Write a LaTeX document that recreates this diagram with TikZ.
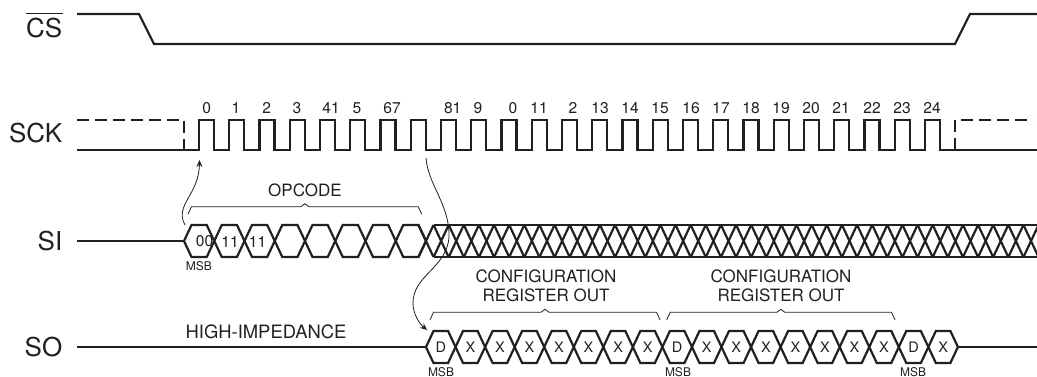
\documentclass[tikz,border=0pt]{standalone}
\usepackage{fontspec}
\setmainfont{TeX Gyre Heros}
\usetikzlibrary{arrows.meta, positioning, calc}
\definecolor{inkblack}{RGB}{35, 31, 32}
\newcommand{\hexcell}[3]{%
  \draw[wave] (#1,#3) -- ({#1+7.5},{#3-16}) -- ({#1+#2-7.5},{#3-16}) -- ({#1+#2},#3) -- ({#1+#2-7.5},{#3+16}) -- ({#1+7.5},{#3+16}) -- cycle;
}
\newcommand{\regbrace}[3]{%
  \draw[bracket] (#1,#3+7.5) -- ({#1+3.5},#3) -- ({(#1+#2)/2-4},#3) -- ({(#1+#2)/2},#3-3) -- ({(#1+#2)/2+4},#3) -- ({#2-3.5},#3) -- (#2,#3+7.5);
}
\begin{document}
\begin{tikzpicture}[
  x=1pt, y=-1pt, color=inkblack,
  wave/.style={line width=2.2pt, inkblack},
  dashwave/.style={line width=1.9pt, inkblack, dash pattern=on 12pt off 6pt},
  bracket/.style={line width=0.8pt, inkblack},
  flow/.style={line width=0.8pt, inkblack, -{Stealth[length=7pt, width=6pt, inset=2.5pt]}},
  signame/.style={font=\fontsize{26}{26}\selectfont, anchor=east, inner sep=0pt},
  ticklabel/.style={font=\fontsize{15.6}{16}\selectfont, inner sep=0pt},
  bitlabel/.style={font=\fontsize{14.5}{15}\selectfont, inner sep=0pt},
  msblabel/.style={font=\fontsize{12}{12}\selectfont, inner sep=0pt},
  note/.style={font=\fontsize{17}{19}\selectfont, inner sep=0pt, align=center}
]
  \useasboundingbox (0,0) rectangle (1037,377);

  % Signal names
  \node[signame] (cs) at (62.5,28.5) {CS};
  \draw[line width=1pt] ([yshift=4.5pt]cs.north west) -- ([yshift=4.5pt]cs.north east);
  \node[signame] (sck) at (62.5,133) {SCK};
  \node[signame] (si) at (62.5,241) {SI};
  \node[signame] (so) at (62.5,347) {SO};

  % CS
  \draw[wave] (77,14) -- (139,14) -- (154,44) -- (955,44) -- (970,14) -- (1037,14);

  % SCK
  \draw[dashwave] (77,120) -- (184,120) -- (184,150);
  \draw[dashwave] (955,150) -- (955,120) -- (1033,120);
  \draw[wave] (77,150) \foreach \k in {0,...,24} {
    -- ({199+30.25*\k},150) -- ({199+30.25*\k},120) -- ({214+30.25*\k},120) -- ({214+30.25*\k},150)
  } -- (1037,150);
  \foreach \x/\t [count=\i] in {206.7/0, 236/1, 266.7/2, 297/3, 331/41, 357/5, 392/67, 452.7/81, 478/9, 513/0, 539/11, 573/2, 600/13, 630/14, 660/15, 691/16, 721/17, 751/18, 781/19, 811/20, 841/21, 872/22, 902/23, 932/24}
    \node[ticklabel] (tick\i) at (\x,108) {\t};

  % SI
  \draw[wave] (77,241) -- (184,241);
  \foreach \k in {0,...,7} {
    \pgfmathsetmacro{\tip}{184+30.25*\k}
    \hexcell{\tip}{30.25}{241}
  }
  \foreach \k in {0,...,40} {
    \pgfmathsetmacro{\cx}{426+15.125*\k}
    \draw[wave] ({\cx-7.5},225) -- ({\cx+7.5},257);
    \draw[wave] ({\cx-7.5},257) -- ({\cx+7.5},225);
  }
  \draw[wave] (433.5,225) -- (1037,225);
  \draw[wave] (433.5,257) -- (1037,257);
  \node[ticklabel] (bita) at (204.5,241.5) {00};
  \node[ticklabel] (bitb) at (230,241.5) {11};
  \node[ticklabel] (bitc) at (257.5,241.5) {11};
  \node[msblabel] (msbsi) at (199,266) {MSB};
  \regbrace{188}{421.7}{206.7}
  \node[note] (opcode) at (305,190) {OPCODE};

  % SO
  \draw[wave] (77,347) -- (426,347);
  \foreach \k/\t in {0/D, 1/X, 2/X, 3/X, 4/X, 5/X, 6/X, 7/X, 8/D, 9/X, 10/X, 11/X, 12/X, 13/X, 14/X, 15/X, 16/D, 17/X} {
    \pgfmathsetmacro{\tip}{426+29.55*\k}
    \hexcell{\tip}{29.55}{347}
    \node[bitlabel] (bit\k) at ({\tip+14.8},347) {\t};
  }
  \draw[wave] (958,347) -- (1037,347);
  \node[msblabel] (msbd) at (441,372) {MSB};
  \node[msblabel] (msbe) at (678,372) {MSB};
  \node[msblabel] (msbf) at (913,372) {MSB};
  \node[note, font=\fontsize{18.4}{19}\selectfont] (hiz) at (266,332) {HIGH-IMPEDANCE};
  \regbrace{430}{660}{312.3}
  \regbrace{666.7}{895}{312.3}
  \node[note] (cfga) at (546,286) {CONFIGURATION\\REGISTER OUT};
  \node[note] (cfgb) at (781,286) {CONFIGURATION\\REGISTER OUT};

  % Arrows
  \coordinate (sistart) at (185,225);
  \coordinate (edgerise) at (199.5,160);
  \coordinate (edgefall) at (426,158);
  \coordinate (somid) at (449,237);
  \coordinate (soend) at (427,330);
  \draw[flow] (sistart) .. controls (174,205) and (199,195) .. (edgerise);
  \draw[flow] (edgefall) .. controls (428,185) and (450,205) .. (somid) .. controls (447,268) and (413,275) .. (413,303) .. controls (413,315) and (420,324) .. (soend);
\end{tikzpicture}
\end{document}
